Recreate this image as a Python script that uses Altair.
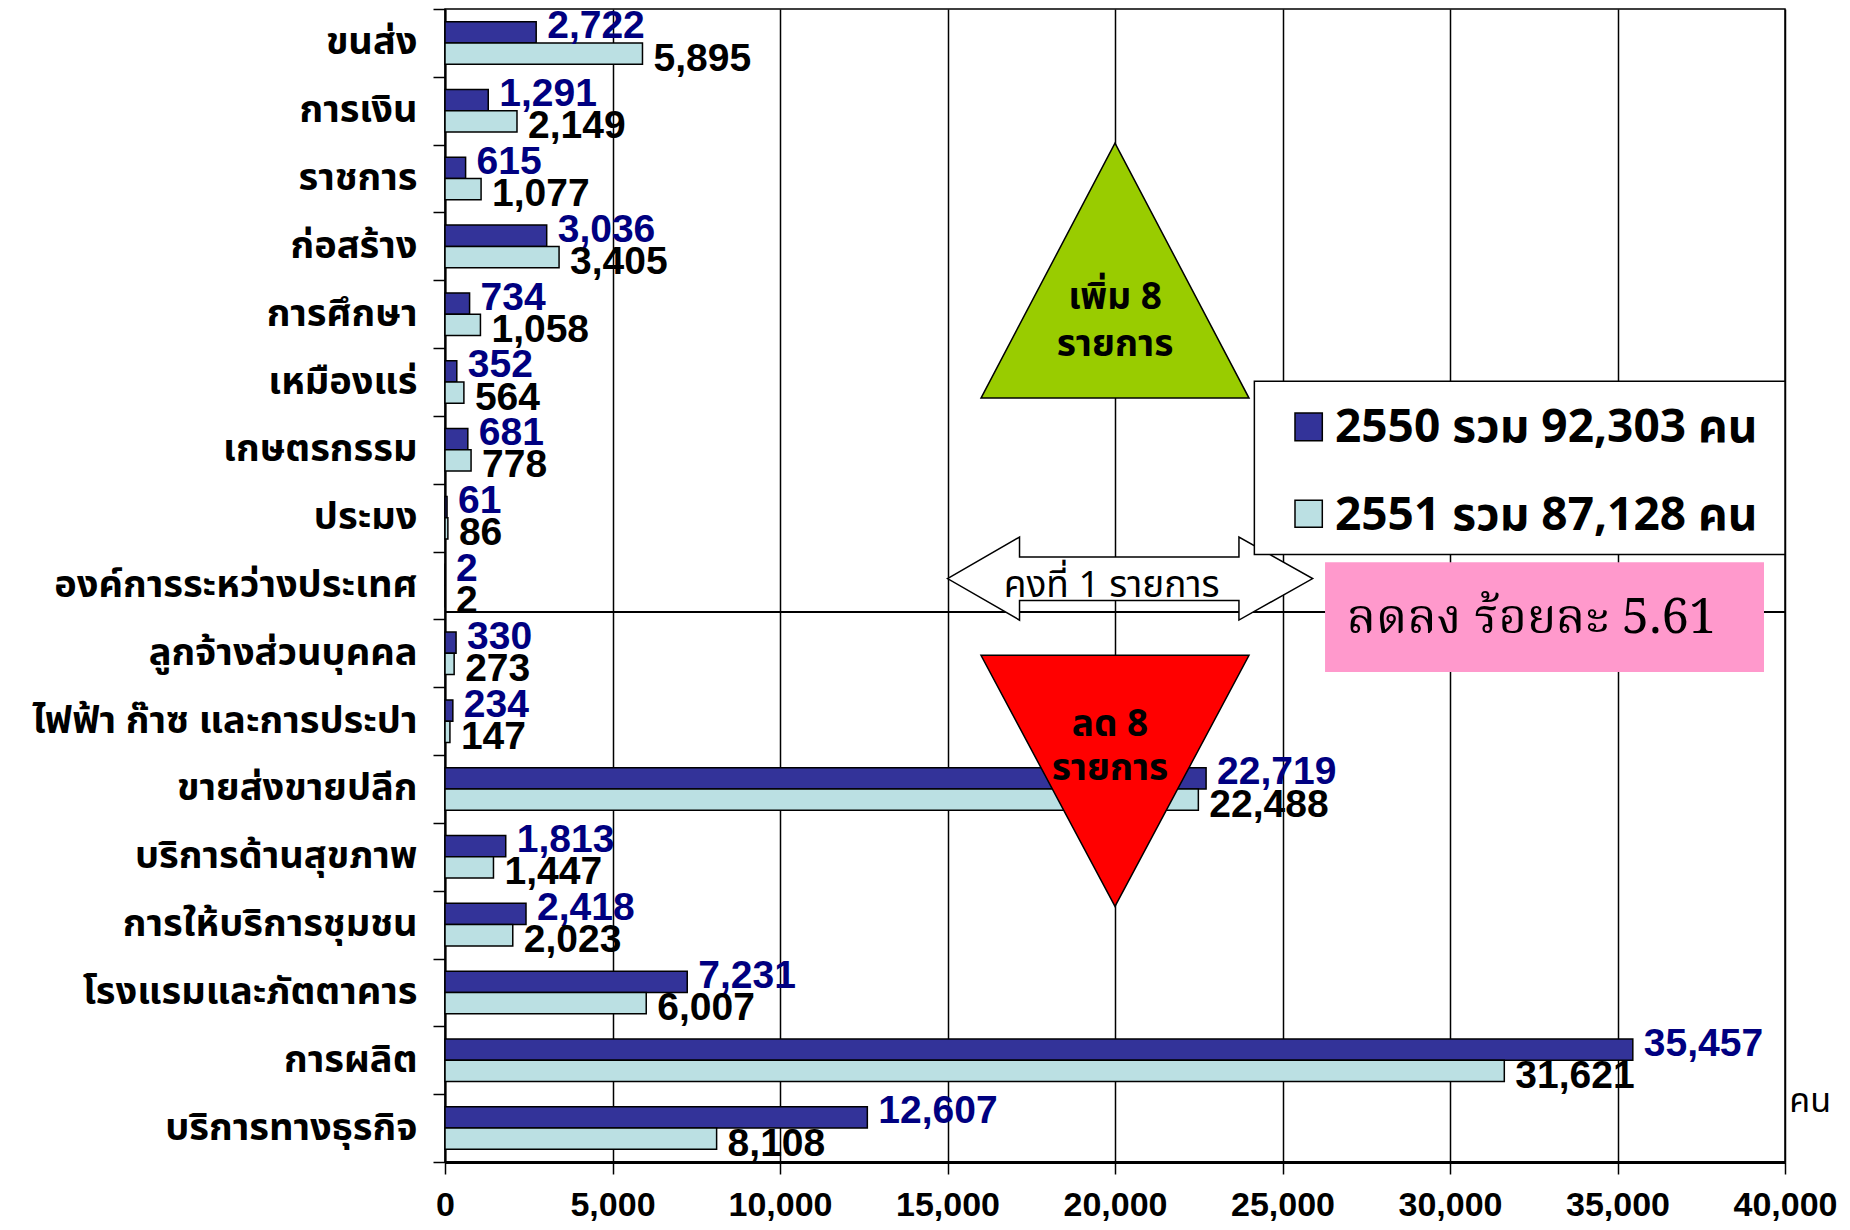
import altair as alt
import pandas as pd

categories = ["ขนส่ง", "การเงิน", "ราชการ", "ก่อสร้าง", "การศึกษา", "เหมืองแร่", "เกษตรกรรม", "ประมง",
              "องค์การระหว่างประเทศ", "ลูกจ้างส่วนบุคคล", "ไฟฟ้า ก๊าซ และการประปา", "ขายส่งขายปลีก",
              "บริการด้านสุขภาพ", "การให้บริการชุมชน", "โรงแรมและภัตตาคาร", "การผลิต", "บริการทางธุรกิจ"]
v2550 = [2722, 1291, 615, 3036, 734, 352, 681, 61, 2, 330, 234, 22719, 1813, 2418, 7231, 35457, 12607]
v2551 = [5895, 2149, 1077, 3405, 1058, 564, 778, 86, 2, 273, 147, 22488, 1447, 2023, 6007, 31621, 8108]
series = ["2550", "2551"]
legend_labels = ["2550 รวม 92,303 คน", "2551 รวม 87,128 คน"]
x_ticks = [0, 5000, 10000, 15000, 20000, 25000, 30000, 35000, 40000]

DARK = "#333399"
LIGHT = "#BBE0E3"
THAI = "Tahoma, 'Noto Sans Thai', 'Noto Sans', 'DejaVu Sans', sans-serif"
THAI_SERIF = "'Angsana New', 'Noto Serif Thai', 'DejaVu Serif', serif"
NUM = "'Liberation Sans', Arial, sans-serif"

rows = []
for c, a, b in zip(categories, v2550, v2551):
    rows.append({"cat": c, "series": "2550", "value": a})
    rows.append({"cat": c, "series": "2551", "value": b})
df = pd.DataFrame(rows)

xs = alt.Scale(domain=[0, 40000], nice=False, zero=True)
ys_band = alt.Scale(domain=categories, paddingInner=0, paddingOuter=0)
off_scale = alt.Scale(domain=series, paddingInner=0, paddingOuter=0.595)
row_scale = alt.Scale(domain=[0, 17], reverse=True, nice=False, zero=False)

base = alt.Chart(df)
bars = base.mark_bar(stroke="black", strokeWidth=1.5, opacity=1).encode(
    x=alt.X("value:Q", scale=xs, title=None,
            axis=alt.Axis(values=x_ticks, format=",d", grid=True, gridColor="black", gridWidth=1.5,
                          gridOpacity=1, domainColor="black", domainWidth=3, tickColor="black",
                          tickWidth=1.5, tickSize=12, labelFont=NUM, labelFontWeight="bold",
                          labelFontSize=34, labelColor="black", labelPadding=41,
                          labelBaseline="alphabetic", labelFlush=False, labelOverlap=False)),
    y=alt.Y("cat:N", scale=ys_band, sort=categories, title=None,
            axis=alt.Axis(tickBand="extent", tickSize=12, tickColor="black", tickWidth=1.5,
                          domainColor="black", domainWidth=2, labelFont=THAI, labelFontWeight="bold",
                          labelFontSize=38, labelColor="black", labelPadding=16, labelLimit=600)),
    yOffset=alt.YOffset("series:N", scale=off_scale),
    color=alt.Color("series:N", scale=alt.Scale(domain=series, range=[DARK, LIGHT]), legend=None),
)

lab_dark = base.transform_filter(alt.datum.series == "2550").mark_text(
    align="left", baseline="middle", dx=11, dy=-6, font=NUM, fontWeight="bold", fontSize=39, color="#000080"
).encode(x=alt.X("value:Q", scale=xs), y=alt.Y("cat:N", scale=ys_band, sort=categories),
         yOffset=alt.YOffset("series:N", scale=off_scale),
         text=alt.Text("value:Q", format=",d"))
lab_light = base.transform_filter(alt.datum.series == "2551").mark_text(
    align="left", baseline="middle", dx=11, dy=5, font=NUM, fontWeight="bold", fontSize=39, color="black"
).encode(x=alt.X("value:Q", scale=xs), y=alt.Y("cat:N", scale=ys_band, sort=categories),
         yOffset=alt.YOffset("series:N", scale=off_scale),
         text=alt.Text("value:Q", format=",d"))

main = alt.layer(bars, lab_dark, lab_light)


def Yr(field="y"):
    return alt.Y(f"{field}:Q", scale=row_scale, axis=None, title=None)


def Xr(field="x"):
    return alt.X(f"{field}:Q", scale=xs, title=None)


# separator line between increase / decrease groups
sep_df = pd.DataFrame({"x": [0], "x2": [40000], "y": [8.89]})
sep = alt.Chart(sep_df).mark_rule(color="black", strokeWidth=2).encode(
    x=Xr(), x2="x2:Q", y=Yr())

# green triangle (increase)
g_df = pd.DataFrame({"x": [16000, 20000, 24000], "y": [5.736, 1.978, 5.736], "y2": [5.736] * 3})
green = alt.Chart(g_df).mark_area(orient="vertical", fill="#99CC00", stroke="black", strokeWidth=1.5,
                                  opacity=1).encode(x=Xr(), y=Yr(), y2="y2:Q")
g_txt_df = pd.DataFrame({"x": [20000, 20000], "y": [4.26, 4.95], "t": ["เพิ่ม 8", "รายการ"]})
green_txt = alt.Chart(g_txt_df).mark_text(font=THAI, fontWeight="bold", fontSize=37, color="black",
                                          baseline="middle").encode(x=Xr(), y=Yr(), text="t:N")

# double arrow (unchanged)
a_df = pd.DataFrame({
    "x": [15000, 17150, 17150, 23700, 23700, 25900],
    "y": [8.398, 7.785, 8.08, 8.08, 7.785, 8.398],
    "y2": [8.398, 9.01, 8.72, 8.72, 9.01, 8.398]})
arrow = alt.Chart(a_df).mark_area(orient="vertical", fill="white", stroke="black", strokeWidth=1.5,
                                  opacity=1).encode(x=Xr(), y=Yr(), y2="y2:Q")
a_txt_df = pd.DataFrame({"x": [19900], "y": [8.51], "t": ["คงที่ 1 รายการ"]})
arrow_txt = alt.Chart(a_txt_df).mark_text(font=THAI, fontSize=37, color="black", baseline="middle").encode(
    x=Xr(), y=Yr(), text="t:N")

# legend box
lb_df = pd.DataFrame({"x": [24160], "x2": [40000], "y": [5.49], "y2": [8.044]})
leg_box = alt.Chart(lb_df).mark_rect(fill="white", stroke="black", strokeWidth=1.5).encode(
    x=Xr(), x2="x2:Q", y=Yr(), y2="y2:Q")
ls_df = pd.DataFrame({"x": [25373, 25373], "x2": [26188, 26188], "y": [5.957, 7.244], "y2": [6.364, 7.642],
                      "s": series})
leg_sq = alt.Chart(ls_df).mark_rect(stroke="black", strokeWidth=1.5).encode(
    x=Xr(), x2="x2:Q", y=Yr(), y2="y2:Q",
    color=alt.Color("s:N", scale=alt.Scale(domain=series, range=[DARK, LIGHT]), legend=None))
lt_df = pd.DataFrame({"x": [26567, 26567], "y": [6.178, 7.47], "t": legend_labels})
leg_txt = alt.Chart(lt_df).mark_text(font=THAI, fontWeight="bold", fontSize=46, color="black",
                                     align="left", baseline="middle").encode(x=Xr(), y=Yr(), text="t:N")

# pink note box
p_df = pd.DataFrame({"x": [26270], "x2": [39373], "y": [8.158], "y2": [9.775]})
pink = alt.Chart(p_df).mark_rect(fill="#FF99CC", strokeWidth=0).encode(
    x=Xr(), x2="x2:Q", y=Yr(), y2="y2:Q")
pt_df = pd.DataFrame({"x": [26916], "y": [8.98], "t": ["ลดลง  ร้อยละ  5.61"]})
pink_txt = alt.Chart(pt_df).mark_text(font=THAI_SERIF, fontSize=49, color="black",
                                      align="left", baseline="middle").encode(x=Xr(), y=Yr(), text="t:N")

# red triangle (decrease)
r_df = pd.DataFrame({"x": [16000, 20000, 24000], "y": [9.53, 9.53, 9.53], "y2": [9.53, 13.23, 9.53]})
red = alt.Chart(r_df).mark_area(orient="vertical", fill="#FF0000", stroke="black", strokeWidth=1.5,
                                opacity=1).encode(x=Xr(), y=Yr(), y2="y2:Q")
r_txt_df = pd.DataFrame({"x": [19850, 19850], "y": [10.55, 11.21], "t": ["ลด 8", "รายการ"]})
red_txt = alt.Chart(r_txt_df).mark_text(font=THAI, fontWeight="bold", fontSize=37, color="black",
                                        baseline="middle").encode(x=Xr(), y=Yr(), text="t:N")

# unit label
u_df = pd.DataFrame({"x": [40130], "y": [16.12], "t": ["คน"]})
unit = alt.Chart(u_df).mark_text(font=THAI, fontSize=34, color="black", align="left",
                                 baseline="middle").encode(x=Xr(), y=Yr(), text="t:N")

chart = alt.layer(
    main, sep, green, green_txt, arrow, arrow_txt, leg_box, leg_sq, leg_txt, pink, pink_txt, red, red_txt, unit
).resolve_scale(y="independent", color="independent").properties(
    width=1340, height=1153,
    autosize=alt.AutoSizeParams(type="none"),
    padding={"left": 437, "top": 1, "right": 57, "bottom": 60},
    background="white",
).configure_view(stroke="black", strokeWidth=1.5)

chart.save("out.html", embed_options={"renderer": "svg", "actions": False})
